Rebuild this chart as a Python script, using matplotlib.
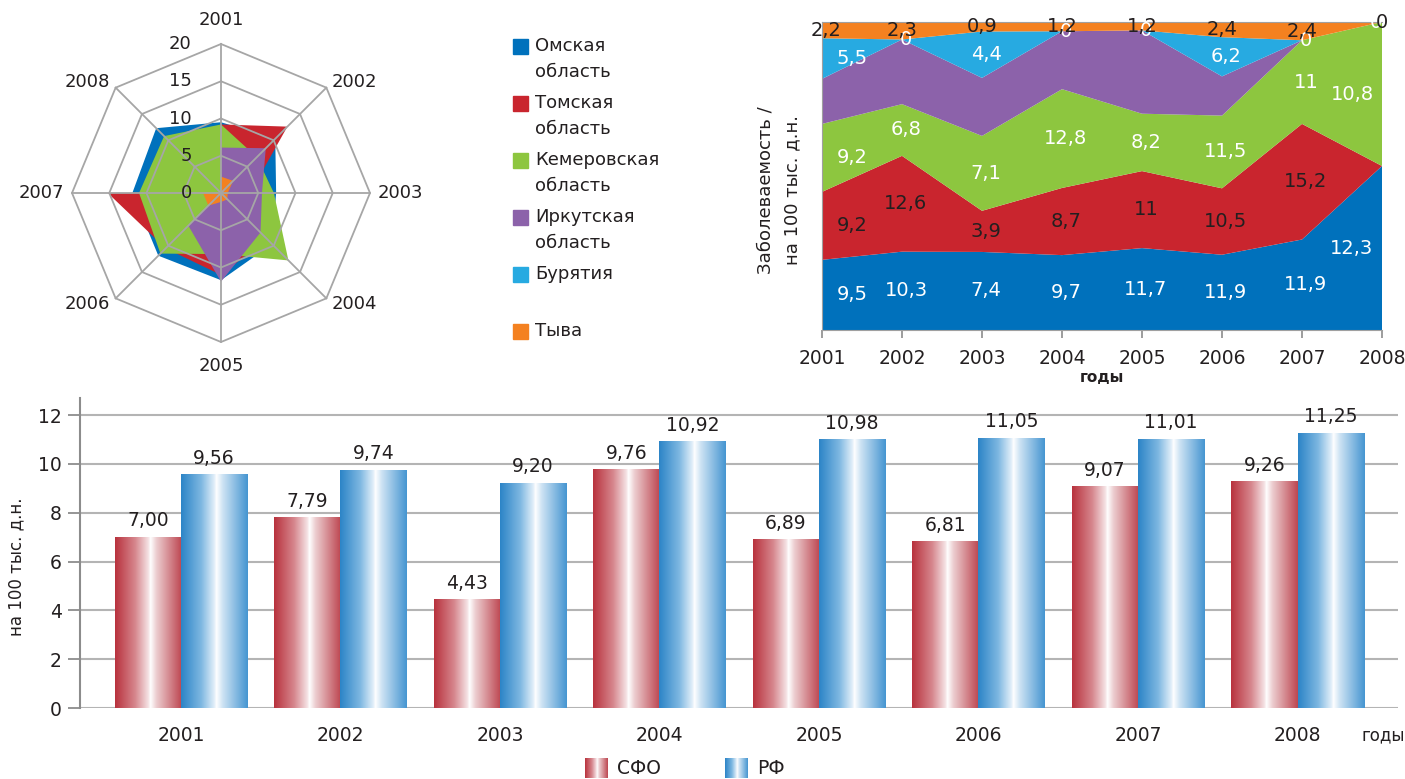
import numpy as np
import matplotlib.pyplot as plt
from matplotlib.colors import LinearSegmentedColormap
from matplotlib.patches import Rectangle

plt.rcParams['font.family'] = ['DejaVu Sans']
TXT = '#231f20'
GRID = '#a6a6a6'

years = [2001, 2002, 2003, 2004, 2005, 2006, 2007, 2008]
region_names = ['Омская\nобласть', 'Томская\nобласть', 'Кемеровская\nобласть',
                'Иркутская\nобласть', 'Бурятия', 'Тыва']
region_colors = ['#0071bc', '#c9252e', '#8dc63f', '#8c62aa', '#27aae1', '#f48120']

# заболеваемость по регионам, на 100 тыс.
omsk = [9.5, 10.3, 7.4, 9.7, 11.7, 11.9, 11.9, 12.3]
tomsk = [9.2, 12.6, 3.9, 8.7, 11.0, 10.5, 15.2, 0.0]
kemerovo = [9.2, 6.8, 7.1, 12.8, 8.2, 11.5, 11.0, 10.8]
irkutsk = [6.1, 8.5, 5.5, 7.5, 11.9, 6.2, 0.0, 0.0]
buryatia = [5.5, 0.0, 4.4, 0.0, 0.0, 6.2, 0.0, 0.0]
tyva = [2.2, 2.3, 0.9, 1.2, 1.2, 2.4, 2.4, 0.0]

# СФО и РФ
sfo = [7.00, 7.79, 4.43, 9.76, 6.89, 6.81, 9.07, 9.26]
rf = [9.56, 9.74, 9.20, 10.92, 10.98, 11.05, 11.01, 11.25]

series = [omsk, tomsk, kemerovo, irkutsk, buryatia, tyva]
W, H = 1405, 779


def rect(x0, y0, x1, y1):
    # pixel box (from top-left) -> figure fraction
    return [x0 / W, 1 - y1 / H, (x1 - x0) / W, (y1 - y0) / H]


def fmt(v, nd=1):
    s = f'{v:.{nd}f}'
    if nd == 1 and s.endswith('.0'):
        s = s[:-2]
    return s.replace('.', ',')


fig = plt.figure(figsize=(W / 100, H / 100), dpi=100)

# ---------- лепестковая диаграмма ----------
axr = fig.add_axes(rect(221 - 149, 193 - 149, 221 + 149, 193 + 149), projection='polar')
axr.set_theta_zero_location('N')
axr.set_theta_direction(-1)
theta = np.arange(len(years)) * 2 * np.pi / len(years)
theta_c = np.append(theta, theta[0])

for k in [0, 1, 4, 2, 3, 5]:
    vals = np.array(series[k])
    axr.fill(theta_c, np.append(vals, vals[0]), color=region_colors[k], lw=0, zorder=2)

for r in [5, 10, 15, 20]:
    axr.plot(theta_c, [r] * len(theta_c), color=GRID, lw=1.3, zorder=4, clip_on=False)
for t in theta:
    axr.plot([t, t], [0, 20], color=GRID, lw=1.3, zorder=4, clip_on=False)

axr.set_ylim(0, 20)
axr.set_xticks([])
axr.set_yticks([])
axr.grid(False)
axr.spines['polar'].set_visible(False)

for r in [0, 5, 10, 15, 20]:
    axr.annotate(str(r), xy=(0, r), xytext=(-21, 0), textcoords='offset points',
                 ha='right', va='center', fontsize=13, color=TXT, zorder=6)

for t, y in zip(theta, years):
    s, c = np.sin(t), np.cos(t)
    ha = 'left' if s > 0.1 else ('right' if s < -0.1 else 'center')
    va = 'bottom' if c > 0.9 else ('top' if c < -0.9 else 'center')
    rr = 22 if ha == 'center' else 21
    axr.text(t, rr, str(y), ha=ha, va=va, fontsize=13, color=TXT)

# ---------- легенда регионов ----------
for k, name in enumerate(region_names):
    yc = 47 + 57 * k
    fig.patches.append(Rectangle((513 / W, 1 - (yc + 7) / H), 15 / W, 15 / H,
                                 transform=fig.transFigure, color=region_colors[k]))
    fig.text(535 / W, 1 - (yc - 10) / H, name, ha='left', va='top', fontsize=13,
             color=TXT, linespacing=1.55)

# ---------- нормированная диаграмма с областями ----------
axs = fig.add_axes(rect(822, 22, 1382, 330))
vals = np.array(series, dtype=float)
shares = vals / vals.sum(axis=0)
axs.stackplot(years, shares, colors=region_colors, lw=0)
axs.set_xlim(2001, 2008)
axs.set_ylim(0, 1)
axs.set_xticks(years)
axs.set_yticks([])
axs.tick_params(axis='x', direction='out', length=6, color='#8c8c8c', width=1.2,
                labelsize=13.5, labelcolor=TXT, pad=8)
for side in ['left', 'bottom', 'top']:
    axs.spines[side].set_color('#a0a0a0')
axs.spines['right'].set_visible(False)
axs.set_xlabel('годы', fontsize=11, fontweight='bold', color=TXT, labelpad=1)

label_colors = {0: 'white', 1: TXT, 2: 'white', 4: 'white', 5: TXT}
cum = np.vstack([np.zeros(len(years)), np.cumsum(shares, axis=0)])
for k, col in label_colors.items():
    for i, y in enumerate(years):
        v = series[k][i]
        if k == 1 and v == 0:
            continue
        if k == 5:
            dx = 0.05 if y == 2001 else 0.0
        elif y == 2001:
            dx = 0.375
        elif y == 2008:
            dx = -0.08 if k == 4 else -0.375
        else:
            dx = 0.05
        yc = (cum[k, i] + cum[k + 1, i]) / 2
        axs.text(y + dx, yc, fmt(v), ha='center', va='center', fontsize=14,
                 color=col, clip_on=False, zorder=5)

fig.text(765 / W, 1 - 190 / H, 'Заболеваемость /', rotation=90, ha='center',
         va='center', fontsize=13, color=TXT)
fig.text(792 / W, 1 - 190 / H, 'на 100 тыс. д.н.', rotation=90, ha='center',
         va='center', fontsize=13, color=TXT)

# ---------- столбцы СФО / РФ ----------
red_cmap = LinearSegmentedColormap.from_list('sfo', [
    (0.0, '#b8323d'), (0.3, '#d6868d'), (0.5, '#f5e2e4'), (0.53, '#ffffff'),
    (0.62, '#eccdd0'), (1.0, '#bd4650')])
blue_cmap = LinearSegmentedColormap.from_list('rf', [
    (0.0, '#2c84c7'), (0.3, '#7db7e1'), (0.5, '#e2eff9'), (0.53, '#ffffff'),
    (0.62, '#cfe4f4'), (1.0, '#4595d1')])
grad = np.linspace(0, 1, 256).reshape(1, -1)

axb = fig.add_axes(rect(80, 398, 1398, 708))
idx = np.arange(len(years))
bw = 0.415
bars_sfo = axb.bar(idx - bw / 2, sfo, width=bw, color='none', lw=0)
bars_rf = axb.bar(idx + bw / 2, rf, width=bw, color='none', lw=0)
for bars, cmap, data in [(bars_sfo, red_cmap, sfo), (bars_rf, blue_cmap, rf)]:
    for b, v in zip(bars, data):
        x0, w, h = b.get_x(), b.get_width(), b.get_height()
        axb.imshow(grad, cmap=cmap, extent=[x0, x0 + w, 0, h], aspect='auto',
                   interpolation='bilinear', zorder=2)
        axb.annotate(f'{v:.2f}'.replace('.', ','), xy=(x0 + w / 2, h),
                     xytext=(0, 5), textcoords='offset points', ha='center',
                     va='bottom', fontsize=13.5, color=TXT)

axb.set_xlim(-0.633, 7.63)
axb.set_ylim(0, 12.7)
axb.set_yticks(range(0, 13, 2))
axb.set_xticks(idx)
axb.set_xticklabels(years)
axb.yaxis.grid(True, color='#b4b4b4', lw=1.5)
axb.set_axisbelow(True)
axb.tick_params(axis='y', length=9, width=1.3, color='#8c8c8c', labelsize=13.5,
                labelcolor=TXT, pad=4)
axb.tick_params(axis='x', length=0, labelsize=13.5, labelcolor=TXT, pad=13)
for side in ['top', 'right', 'bottom']:
    axb.spines[side].set_visible(False)
axb.spines['left'].set_color('#8c8c8c')
axb.spines['left'].set_linewidth(1.5)

fig.text(16 / W, 1 - 567 / H, 'на 100 тыс. д.н.', rotation=90, ha='center',
         va='center', fontsize=12, color=TXT)
fig.text(1383 / W, 1 - 735 / H, 'годы', ha='center', va='center', fontsize=12,
         color=TXT)

# легенда СФО / РФ
for x0, cmap, name in [(585, red_cmap, 'СФО'), (725, blue_cmap, 'РФ')]:
    sw = fig.add_axes(rect(x0, 758, x0 + 23, 778))
    sw.imshow(grad, cmap=cmap, aspect='auto', interpolation='bilinear')
    sw.axis('off')
    fig.text((x0 + 32) / W, 1 - 768 / H, name, ha='left', va='center',
             fontsize=13.5, color=TXT)

fig.savefig('out.png', dpi=100)
